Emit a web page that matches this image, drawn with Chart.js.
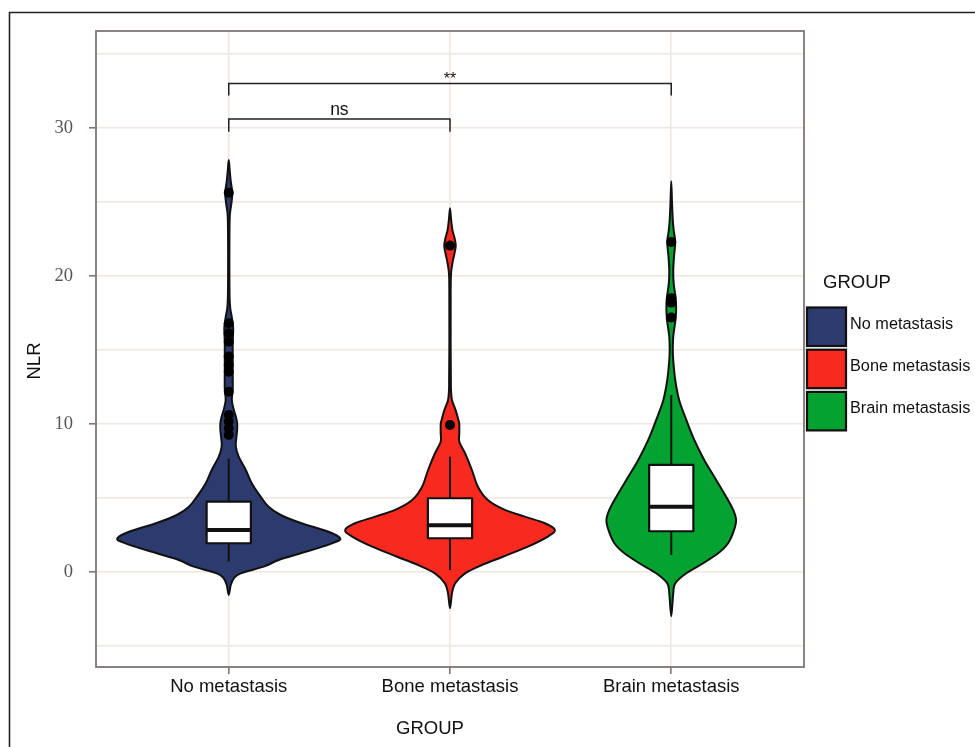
<!DOCTYPE html>
<html>
<head>
<meta charset="utf-8">
<title>NLR by group</title>
<script src="https://cdn.jsdelivr.net/npm/chart.js@4.4.1/dist/chart.umd.min.js"></script>
<style>
  html, body { margin: 0; padding: 0; background: #fff; }
  #wrap { width: 975px; height: 747px; }
</style>
</head>
<body>
<div id="wrap"><canvas id="nlrChart" width="975" height="747"></canvas></div>
<script>
/* ---------- Data ---------- */
const groups = ["No metastasis", "Bone metastasis", "Brain metastasis"];
const groupColors = ["#2c3a6d", "#f82a1f", "#03a231"];

// violin outlines: NLR level -> half width (in category units)
const noMetLevels = [-1.55, -0.88, -0.43, -0.09, 0.36, 0.81, 1.26, 1.71, 2.0, 2.27, 2.72, 3.29, 3.85, 4.41, 5.09, 6.0, 6.89, 7.79, 8.47, 9.03, 9.6, 10.05, 10.5, 10.95, 11.6, 12.4, 13.5, 14.5, 15.5, 16.5, 17.2, 17.8, 18.5, 20, 22, 24, 24.8, 25.6, 26.4, 27.2, 27.84];
const noMetWidth  = [0, 0.009, 0.023, 0.054, 0.158, 0.226, 0.325, 0.424, 0.478, 0.504, 0.451, 0.329, 0.235, 0.18, 0.144, 0.104, 0.077, 0.045, 0.032, 0.034, 0.038, 0.038, 0.032, 0.023, 0.014, 0.018, 0.018, 0.018, 0.018, 0.02, 0.014, 0.007, 0.004, 0.003, 0.003, 0.0045, 0.011, 0.016, 0.009, 0.004, 0];

const boneLevels = [-2.45, -1.44, -0.77, -0.09, 0.47, 1.03, 1.71, 2.39, 2.84, 3.29, 3.74, 4.19, 4.86, 5.76, 6.89, 8.02, 8.8, 9.37, 10.0, 10.27, 10.95, 11.6, 12.3, 13, 15, 18, 20, 20.86, 21.5, 22.05, 22.6, 23.1, 23.8, 24.57];
const boneWidth  = [0, 0.009, 0.023, 0.068, 0.144, 0.239, 0.352, 0.442, 0.474, 0.429, 0.338, 0.248, 0.171, 0.126, 0.099, 0.068, 0.042, 0.042, 0.042, 0.038, 0.025, 0.009, 0.0045, 0.004, 0.003, 0.003, 0.004, 0.011, 0.02, 0.026, 0.02, 0.011, 0.005, 0];

const brainLevels = [-3.0, -1.44, -0.77, -0.09, 0.59, 1.26, 1.94, 2.84, 3.51, 4.19, 5.09, 6.22, 7.57, 8.92, 10.27, 11.6, 12.97, 14.3, 15.0, 15.9, 17.14, 17.9, 18.5, 19.5, 20.4, 21.4, 22.3, 23.1, 23.8, 24.9, 26.4];
const brainWidth  = [0, 0.009, 0.018, 0.068, 0.144, 0.212, 0.257, 0.284, 0.293, 0.28, 0.248, 0.203, 0.149, 0.104, 0.068, 0.036, 0.018, 0.009, 0.007, 0.009, 0.02, 0.022, 0.02, 0.011, 0.009, 0.013, 0.018, 0.011, 0.007, 0.0036, 0];

// box plot summary per group
const whiskerLow  = [0.7, 0.14, 1.15];
const quartile1   = [1.94, 2.28, 2.75];
const medians     = [2.84, 3.15, 4.41];
const quartile3   = [4.75, 4.98, 7.23];
const whiskerHigh = [7.65, 7.78, 11.96];

// outliers
const noMetOutliers = [25.63, 16.8, 16.13, 15.56, 14.55, 13.99, 13.53, 12.18, 10.6, 10.16, 9.7, 9.26];
const boneOutliers  = [22.05, 9.93];
const brainOutliers = [22.3, 18.5, 18.2, 17.2];

// significance brackets: from group, to group, bar level, drop level, label
const bracketFrom  = [1, 1];
const bracketTo    = [2, 3];
const bracketLevel = [30.6, 33.0];
const bracketDrop  = [29.75, 32.2];
const bracketText  = ["ns", "**"];

const yTicks = [-5, 0, 5, 10, 15, 20, 25, 30, 35];

/* ---------- Styles ---------- */
const INK = "#111";
const PANEL = "#7d7674";
const GRID = "#f0e6e2";
const SANS = "'Liberation Sans', Arial, sans-serif";
const SERIF = "'Liberation Serif', 'Times New Roman', serif";

const violins = [
  { levels: noMetLevels, width: noMetWidth },
  { levels: boneLevels, width: boneWidth },
  { levels: brainLevels, width: brainWidth },
];
const outliers = [noMetOutliers, boneOutliers, brainOutliers];

/* ---------- Helpers ---------- */
// closed Catmull-Rom curve through pixel points
function smoothClosed(ctx, pts) {
  const n = pts.length;
  const t = 1 / 6;
  ctx.moveTo(pts[0][0], pts[0][1]);
  for (let i = 0; i < n; i++) {
    const p0 = pts[(i - 1 + n) % n], p1 = pts[i], p2 = pts[(i + 1) % n], p3 = pts[(i + 2) % n];
    ctx.bezierCurveTo(
      p1[0] + (p2[0] - p0[0]) * t, p1[1] + (p2[1] - p0[1]) * t,
      p2[0] - (p3[0] - p1[0]) * t, p2[1] - (p3[1] - p1[1]) * t,
      p2[0], p2[1]
    );
  }
  ctx.closePath();
}

/* ---------- Violin + box layer ---------- */
const violinLayer = {
  id: "violinLayer",
  beforeDatasetsDraw(chart) {
    const { ctx, scales: { x, y } } = chart;
    ctx.save();
    violins.forEach((v, g) => {
      const c = g + 1;
      const left = v.levels.map((lv, i) => [x.getPixelForValue(c - v.width[i]), y.getPixelForValue(lv)]);
      const right = [];
      for (let i = v.levels.length - 2; i > 0; i--) {
        right.push([x.getPixelForValue(c + v.width[i]), y.getPixelForValue(v.levels[i])]);
      }
      ctx.beginPath();
      smoothClosed(ctx, left.concat(right));
      ctx.fillStyle = groupColors[g];
      ctx.fill();
      ctx.lineWidth = 2;
      ctx.lineJoin = "round";
      ctx.strokeStyle = INK;
      ctx.stroke();

      // whiskers
      const cx = x.getPixelForValue(c);
      ctx.beginPath();
      ctx.moveTo(cx, y.getPixelForValue(whiskerLow[g]));
      ctx.lineTo(cx, y.getPixelForValue(quartile1[g]));
      ctx.moveTo(cx, y.getPixelForValue(quartile3[g]));
      ctx.lineTo(cx, y.getPixelForValue(whiskerHigh[g]));
      ctx.lineWidth = 2;
      ctx.stroke();

      // box
      const bl = x.getPixelForValue(c - 0.1), br = x.getPixelForValue(c + 0.1);
      const bt = y.getPixelForValue(quartile3[g]), bb = y.getPixelForValue(quartile1[g]);
      ctx.fillStyle = "#fff";
      ctx.fillRect(bl, bt, br - bl, bb - bt);
      ctx.lineWidth = 2.2;
      ctx.strokeRect(bl, bt, br - bl, bb - bt);
      const my = y.getPixelForValue(medians[g]);
      ctx.beginPath();
      ctx.moveTo(bl, my);
      ctx.lineTo(br, my);
      ctx.lineWidth = 4;
      ctx.stroke();
    });
    ctx.restore();
  },
  afterDatasetsDraw(chart) {
    const { ctx, chartArea: a, scales: { x, y } } = chart;
    ctx.save();
    // brackets
    ctx.strokeStyle = "#222";
    ctx.lineWidth = 1.5;
    ctx.fillStyle = INK;
    ctx.textAlign = "center";
    ctx.textBaseline = "alphabetic";
    bracketText.forEach((label, i) => {
      const x0 = x.getPixelForValue(bracketFrom[i]);
      const x1 = x.getPixelForValue(bracketTo[i]);
      const yb = y.getPixelForValue(bracketLevel[i]);
      const yd = y.getPixelForValue(bracketDrop[i]);
      ctx.beginPath();
      ctx.moveTo(x0, yd);
      ctx.lineTo(x0, yb);
      ctx.lineTo(x1, yb);
      ctx.lineTo(x1, yd);
      ctx.stroke();
      ctx.font = `${label === "ns" ? 17.5 : 16}px ${SANS}`;
      ctx.fillText(label, (x0 + x1) / 2, yb - (label === "ns" ? 4 : 0));
    });
    // panel border
    ctx.strokeStyle = PANEL;
    ctx.lineWidth = 1.8;
    ctx.strokeRect(a.left, a.top, a.right - a.left, a.bottom - a.top);
    ctx.restore();
  },
  afterDraw(chart) {
    const { ctx, chartArea: a } = chart;
    ctx.save();
    // outer frame
    ctx.strokeStyle = "#222";
    ctx.lineWidth = 1.6;
    ctx.beginPath();
    ctx.moveTo(9.5, 747);
    ctx.lineTo(9.5, 12.5);
    ctx.lineTo(975, 12.5);
    ctx.stroke();

    // axis titles
    ctx.fillStyle = INK;
    ctx.font = `18.5px ${SANS}`;
    ctx.textAlign = "center";
    ctx.textBaseline = "alphabetic";
    ctx.fillText("GROUP", 430, 734);
    ctx.save();
    ctx.translate(40, 361);
    ctx.rotate(-Math.PI / 2);
    ctx.fillText("NLR", 0, 0);
    ctx.restore();

    // legend
    const lx = a.right + 3;
    ctx.textAlign = "left";
    ctx.fillText("GROUP", lx + 16, 288);
    ctx.font = `16.3px ${SANS}`;
    groups.forEach((name, i) => {
      const top = 307.5 + i * 42.2;
      ctx.fillStyle = groupColors[i];
      ctx.fillRect(lx, top, 39, 38.5);
      ctx.strokeStyle = INK;
      ctx.lineWidth = 2.2;
      ctx.strokeRect(lx, top, 39, 38.5);
      ctx.fillStyle = INK;
      ctx.fillText(name, lx + 43, top + 21);
    });
    ctx.restore();
  },
};

/* ---------- Chart ---------- */
const outlierSets = outliers.map((vals, g) => ({
  type: "scatter",
  label: groups[g],
  data: vals.map((v) => ({ x: g + 1, y: v })),
  pointRadius: 5,
  pointBackgroundColor: "#000",
  pointBorderWidth: 0,
}));

new Chart(document.getElementById("nlrChart"), {
  type: "scatter",
  data: { datasets: outlierSets },
  options: {
    responsive: false,
    animation: false,
    events: [],
    layout: { padding: { top: 31, right: 171, left: 0, bottom: 0 } },
    plugins: { legend: { display: false }, tooltip: { enabled: false } },
    scales: {
      x: {
        type: "linear",
        min: 0.4,
        max: 3.6,
        afterBuildTicks: (s) => { s.ticks = [1, 2, 3].map((v) => ({ value: v })); },
        afterFit: (s) => { s.height = 80; },
        ticks: {
          callback: (v) => groups[v - 1],
          color: INK,
          font: { family: SANS, size: 18.5 },
          padding: 2,
          maxRotation: 0,
        },
        grid: { color: GRID, lineWidth: 1.6, tickColor: PANEL, tickLength: 7, tickWidth: 1.6 },
        border: { display: false },
      },
      y: {
        type: "linear",
        min: -6.42,
        max: 36.55,
        afterBuildTicks: (s) => { s.ticks = yTicks.map((v) => ({ value: v })); },
        afterFit: (s) => { s.width = 96; },
        ticks: {
          callback: (v) => (v % 10 === 0 ? String(v) : ""),
          color: "#555",
          font: { family: SERIF, size: 18.5 },
          padding: 16,
        },
        grid: {
          color: GRID,
          lineWidth: 1.6,
          tickLength: 7,
          tickWidth: 1.6,
          tickColor: (c) => (c.tick && c.tick.value % 10 === 0 ? PANEL : "rgba(0,0,0,0)"),
        },
        border: { display: false },
      },
    },
  },
  plugins: [violinLayer],
});
</script>
</body>
</html>
